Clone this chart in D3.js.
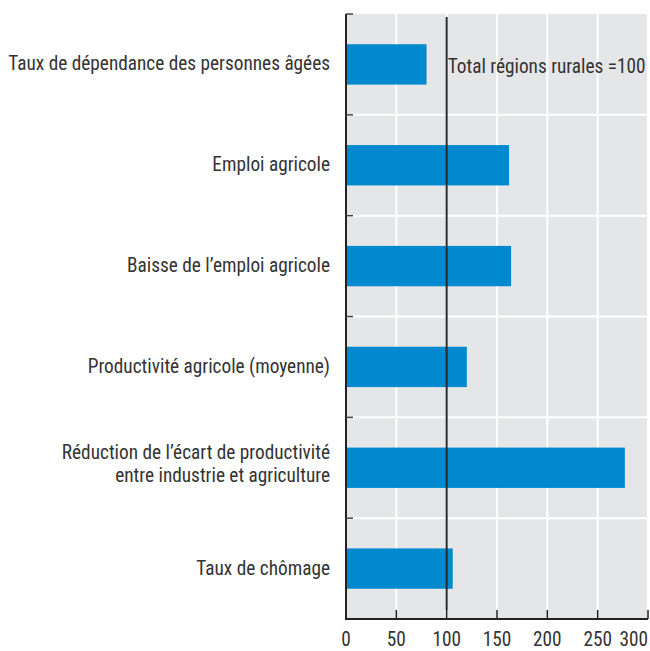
<!DOCTYPE html>
<html><head><meta charset="utf-8">
<script src="https://cdn.jsdelivr.net/npm/d3@7"></script>
<style>
body{margin:0;background:#fff;}
text{font-family:"Liberation Sans Narrow","Arial Narrow","Roboto Condensed",sans-serif;fill:#333;}
</style></head><body>
<svg id="c" width="650" height="651"></svg>
<script>
const categories = [
  ["Taux de dépendance des personnes âgées"],
  ["Emploi agricole"],
  ["Baisse de l’emploi agricole"],
  ["Productivité agricole (moyenne)"],
  ["Réduction de l’écart de productivité", "entre industrie et agriculture"],
  ["Taux de chômage"]
];
const values = [80, 162, 164, 120, 277, 106];
const ticks = [0, 50, 100, 150, 200, 250, 300];
const refValue = 100;
const refLabel = "Total régions rurales =100";

const svg = d3.select("#c");
const L = 346, R = 648, T = 14, B = 619;
const fs = 19.3;
const keys = categories.map((d, i) => i);
const x = d3.scaleLinear().domain([0, 300]).range([L, R]);
const yBand = d3.scaleBand().domain(keys).range([T, B]).padding(0);
const y = d3.scaleBand().domain(keys).range([T, B]).paddingInner(0.6).paddingOuter(0.3);

svg.append("rect").attr("x", L).attr("y", T).attr("width", R - L).attr("height", B - T).attr("fill", "#e5e6e8");

svg.append("g").selectAll("line").data(ticks.slice(1)).join("line")
  .attr("x1", d => x(d)).attr("x2", d => x(d)).attr("y1", T).attr("y2", B)
  .attr("stroke", "#fff").attr("stroke-width", 2);
svg.append("g").selectAll("line").data(keys.slice(1)).join("line")
  .attr("x1", L).attr("x2", R).attr("y1", d => yBand(d)).attr("y2", d => yBand(d))
  .attr("stroke", "#fff").attr("stroke-width", 2);

svg.append("g").selectAll("rect").data(values).join("rect")
  .attr("x", x(0)).attr("y", (d, i) => y(i)).attr("height", y.bandwidth())
  .attr("width", d => x(d) - x(0)).attr("fill", "#0089cf");

svg.append("line").attr("x1", x(refValue)).attr("x2", x(refValue)).attr("y1", T + 3).attr("y2", B - 9)
  .attr("stroke", "#2b2b2b").attr("stroke-width", 2);
svg.append("text").attr("x", x(refValue) + 1).attr("y", yBand(0) + yBand.bandwidth() / 2 + 9)
  .attr("font-size", fs).text(refLabel);

svg.append("line").attr("x1", L).attr("x2", L).attr("y1", T).attr("y2", B).attr("stroke", "#222").attr("stroke-width", 2);
const bounds = keys.map(k => yBand(k));
svg.append("g").selectAll("line").data(bounds).join("line")
  .attr("x1", L).attr("x2", L + 7).attr("y1", d => d).attr("y2", d => d)
  .attr("stroke", "#444").attr("stroke-width", 1.5);

svg.append("line").attr("x1", L - 1).attr("x2", R).attr("y1", B).attr("y2", B).attr("stroke", "#222").attr("stroke-width", 2);
svg.append("g").selectAll("line").data(ticks).join("line")
  .attr("x1", d => x(d)).attr("x2", d => x(d)).attr("y1", B).attr("y2", B - 9)
  .attr("stroke", "#222").attr("stroke-width", 1.5);
svg.append("g").selectAll("text").data(ticks).join("text")
  .attr("x", (d, i) => i === ticks.length - 1 ? R : x(d))
  .attr("text-anchor", (d, i) => i === ticks.length - 1 ? "end" : "middle")
  .attr("y", 646).attr("font-size", fs).text(d => d);

const lab = svg.append("g").selectAll("text").data(categories).join("text")
  .attr("text-anchor", "end").attr("font-size", fs)
  .attr("y", (d, i) => yBand(i) + yBand.bandwidth() / 2);
lab.each(function(d) {
  const t = d3.select(this);
  const n = d.length;
  d.forEach((line, j) => {
    t.append("tspan").attr("x", 330)
      .attr("dy", j === 0 ? (6 - (n - 1) * 14.5) : 23).text(line);
  });
});
</script></body></html>
